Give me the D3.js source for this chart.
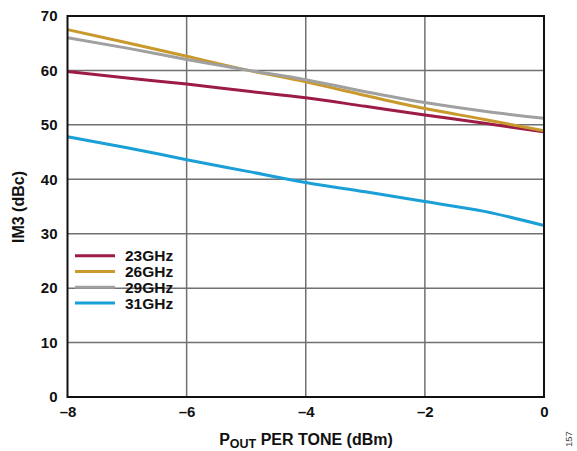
<!DOCTYPE html>
<html><head><meta charset="utf-8">
<script src="https://cdn.jsdelivr.net/npm/d3@7"></script>
<style>body{margin:0;background:#fff}svg{display:block;font-family:"Liberation Sans",Arial,sans-serif}</style>
</head><body><svg id="c" width="577" height="451"></svg>
<script>
const xVals = [-8, -7, -6, -5, -4, -3, -2, -1, 0];
const seriesNames = ["23GHz", "26GHz", "29GHz", "31GHz"];
const s23 = [59.8, 58.6, 57.5, 56.2, 55.0, 53.4, 51.8, 50.3, 48.7];
const s26 = [67.5, 65.1, 62.6, 60.1, 57.9, 55.4, 53.0, 51.0, 48.9];
const s29 = [66.0, 64.1, 62.0, 60.1, 58.3, 56.1, 54.1, 52.5, 51.2];
const s31 = [47.8, 45.8, 43.6, 41.5, 39.4, 37.7, 35.9, 34.1, 31.5];
const colors = ["#9c1c45", "#c9992d", "#a0a0a0", "#1a9fd6"];
const xTicks = [-8, -6, -4, -2, 0];
const yTicks = [0, 10, 20, 30, 40, 50, 60, 70];
const allSeries = [s23, s26, s29, s31];

const svg = d3.select("#c");
const L = 67.5, R = 544, T = 16, B = 397;
const x = d3.scaleLinear().domain([-8, 0]).range([L, R]);
const y = d3.scaleLinear().domain([0, 70]).range([B, T]);
const FF = '"Liberation Sans",Arial,sans-serif';

// grid
const g = svg.append("g");
g.selectAll("line.v").data(xTicks.slice(1, -1)).enter().append("line")
  .attr("x1", d => x(d)).attr("x2", d => x(d)).attr("y1", T).attr("y2", B)
  .attr("stroke", "#707070").attr("stroke-width", 1.5);
g.selectAll("line.h").data(yTicks.slice(1, -1)).enter().append("line")
  .attr("y1", d => y(d)).attr("y2", d => y(d)).attr("x1", L).attr("x2", R)
  .attr("stroke", "#707070").attr("stroke-width", 1.5);

// axes (tick labels)
const xAxis = d3.axisBottom(x).tickValues(xTicks).tickSize(0).tickPadding(9)
  .tickFormat(d => d < 0 ? "\u2013" + Math.abs(d) : String(d));
svg.append("g").attr("transform", `translate(0,${B})`).call(xAxis)
  .call(a => a.select(".domain").remove())
  .selectAll("text").attr("font-size", 15).attr("font-weight", "bold").attr("fill", "#111")
  .attr("font-family", FF);
const yAxis = d3.axisLeft(y).tickValues(yTicks).tickSize(0).tickPadding(10);
svg.append("g").attr("transform", `translate(${L},0)`).call(yAxis)
  .call(a => a.select(".domain").remove())
  .selectAll("text").attr("font-size", 15).attr("font-weight", "bold").attr("fill", "#111")
  .attr("font-family", FF);

// lines
const line = d3.line().x((d, i) => x(xVals[i])).y(d => y(d)).curve(d3.curveMonotoneX);
allSeries.forEach((s, i) => {
  svg.append("path").datum(s).attr("d", line).attr("fill", "none")
    .attr("stroke", colors[i]).attr("stroke-width", 3);
});

// frame
svg.append("rect").attr("x", L).attr("y", T).attr("width", R - L).attr("height", B - T)
  .attr("fill", "none").attr("stroke", "#111").attr("stroke-width", 2);

// legend
const lg = svg.append("g");
seriesNames.forEach((n, i) => {
  const yy = 255.7 + i * 15.8;
  lg.append("line").attr("x1", 75).attr("x2", 115).attr("y1", yy).attr("y2", yy)
    .attr("stroke", colors[i]).attr("stroke-width", 3);
  lg.append("text").attr("x", 125).attr("y", yy + 5.5).text(n)
    .attr("font-size", 15.5).attr("font-weight", "bold").attr("fill", "#111");
});

// y title
svg.append("text").attr("transform", "translate(24,207) rotate(-90)")
  .attr("text-anchor", "middle").attr("font-size", 16).attr("font-weight", "bold").attr("fill", "#111")
  .text("IM3 (dBc)");

// x title
const xt = svg.append("text").attr("x", 306).attr("y", 445).attr("text-anchor", "middle")
  .attr("font-size", 16).attr("font-weight", "bold").attr("fill", "#111");
xt.append("tspan").text("P");
xt.append("tspan").attr("font-size", 12.5).attr("dy", 3).text("OUT");
xt.append("tspan").attr("dy", -3).text(" PER TONE (dBm)");

// figure id
svg.append("text").attr("transform", "translate(572,447) rotate(-90)")
  .attr("font-size", 9.5).attr("fill", "#444").text("157");
</script></body></html>
